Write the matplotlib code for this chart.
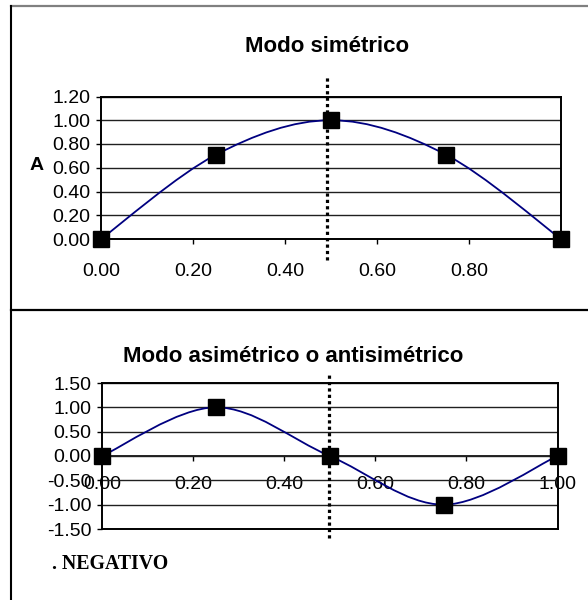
import numpy as np
import matplotlib
matplotlib.use("Agg")
import matplotlib.pyplot as plt
from matplotlib.path import Path
from matplotlib.patches import PathPatch
from matplotlib.lines import Line2D

plt.rcParams['font.family'] = ['Liberation Sans', 'DejaVu Sans']

# datos de los modos
x_pts = [0.0, 0.25, 0.5, 0.75, 1.0]
sim_vals = [0.0, 0.71, 1.0, 0.71, 0.0]
asim_vals = [0.0, 1.0, 0.0, -1.0, 0.0]
mid_sim = 0.491
mid_asim = 0.498

sim_yticks = [0.0, 0.2, 0.4, 0.6, 0.8, 1.0, 1.2]
sim_xticks = [0.0, 0.2, 0.4, 0.6, 0.8]
asim_yticks = [-1.5, -1.0, -0.5, 0.0, 0.5, 1.0, 1.5]
asim_xticks = [0.0, 0.2, 0.4, 0.6, 0.8, 1.0]

W, H = 588, 600
FS = 14


def smooth_path(xs, ys):
    # linea suavizada tipo Excel (Bezier entre los puntos)
    p = np.column_stack([xs, ys]).astype(float)
    ext = np.vstack([p[0], p, p[-1]])
    verts = [p[0]]
    codes = [Path.MOVETO]
    for i in range(len(p) - 1):
        p0, p1, p2, p3 = ext[i], ext[i + 1], ext[i + 2], ext[i + 3]
        c1 = p1 + (p2 - p0) / 6.0
        c2 = p2 - (p3 - p1) / 6.0
        verts += [c1, c2, p2]
        codes += [Path.CURVE4] * 3
    return Path(verts, codes)


def px_axes(fig, left, top, right, bottom):
    return fig.add_axes([left / W, 1 - bottom / H, (right - left) / W, (bottom - top) / H])


def style_axes(ax):
    for s in ax.spines.values():
        s.set_linewidth(1.4)
        s.set_color('black')
    ax.tick_params(axis='y', direction='out', length=3.6, width=1, pad=4, labelsize=FS)
    ax.yaxis.grid(True, color='#202020', linewidth=1.0)
    ax.set_axisbelow(True)


fig = plt.figure(figsize=(W / 100, H / 100), dpi=100)

# ---- Modo simetrico ----
ax1 = px_axes(fig, 101, 96.5, 561, 239)
style_axes(ax1)
ax1.set_xlim(0, 1)
ax1.set_ylim(0, 1.2)
ax1.set_yticks(sim_yticks)
ax1.set_yticklabels([f"{v:.2f}" for v in sim_yticks])
ax1.set_xticks(sim_xticks)
ax1.set_xticklabels([f"{v:.2f}" for v in sim_xticks])
ax1.tick_params(axis='x', direction='out', length=3.6, width=1, pad=14, labelsize=FS)
ax1.add_patch(PathPatch(smooth_path(x_pts, sim_vals), fill=False, edgecolor='#000080',
                        linewidth=1.3, clip_on=False, zorder=3))
ax1.plot(x_pts, sim_vals, linestyle='none', marker='s', markersize=11,
         color='black', clip_on=False, zorder=4)
ax1.axvline(mid_sim, ymin=-0.147, ymax=1.147, color='black', linewidth=2.3,
            linestyle=(0, (1, 1)), clip_on=False, zorder=5)
fig.text(327 / W, 1 - 51.5 / H, 'Modo simétrico', ha='center', va='baseline',
         fontsize=16, fontweight='bold')
fig.text(37 / W, 1 - 170 / H, 'A', ha='center', va='baseline', fontsize=FS, fontweight='bold')

# ---- Modo asimetrico ----
ax2 = px_axes(fig, 102, 383, 557.5, 529)
style_axes(ax2)
ax2.set_xlim(0, 1)
ax2.set_ylim(-1.5, 1.5)
ax2.set_yticks(asim_yticks)
ax2.set_yticklabels([f"{v:.2f}" for v in asim_yticks])
ax2.set_xticks([])
sec = ax2.secondary_xaxis(0.5)
sec.set_alignment('bottom')
sec.set_xticks(asim_xticks)
sec.set_xticklabels([f"{v:.2f}" for v in asim_xticks])
sec.tick_params(axis='x', direction='out', length=3.6, width=1, pad=10.5, labelsize=FS)
sec.spines['bottom'].set_linewidth(1.2)
ax2.add_patch(PathPatch(smooth_path(x_pts, asim_vals), fill=False, edgecolor='#000080',
                        linewidth=1.3, clip_on=False, zorder=3))
ax2.plot(x_pts, asim_vals, linestyle='none', marker='s', markersize=11,
         color='black', clip_on=False, zorder=4)
ax2.axvline(mid_asim, ymin=-0.062, ymax=1.07, color='black', linewidth=2.3,
            linestyle=(0, (1, 1)), clip_on=False, zorder=5)
fig.text(293 / W, 1 - 362 / H, 'Modo asimétrico o antisimétrico', ha='center', va='baseline',
         fontsize=16, fontweight='bold')
fig.text(52 / W, 1 - 569 / H, '. NEGATIVO', ha='left', va='baseline', fontsize=14.3,
         fontweight='bold', family=['Liberation Serif', 'DejaVu Serif'])

# marco del documento
fig.add_artist(Line2D([11 / W, 1], [1 - 6 / H, 1 - 6 / H], color='#808080', linewidth=1.6))
fig.add_artist(Line2D([11 / W, 11 / W], [1 - 6 / H, 0], color='black', linewidth=1.5))
fig.add_artist(Line2D([11 / W, 1], [1 - 310 / H, 1 - 310 / H], color='black', linewidth=1.6))

fig.savefig('out.png', dpi=100)
